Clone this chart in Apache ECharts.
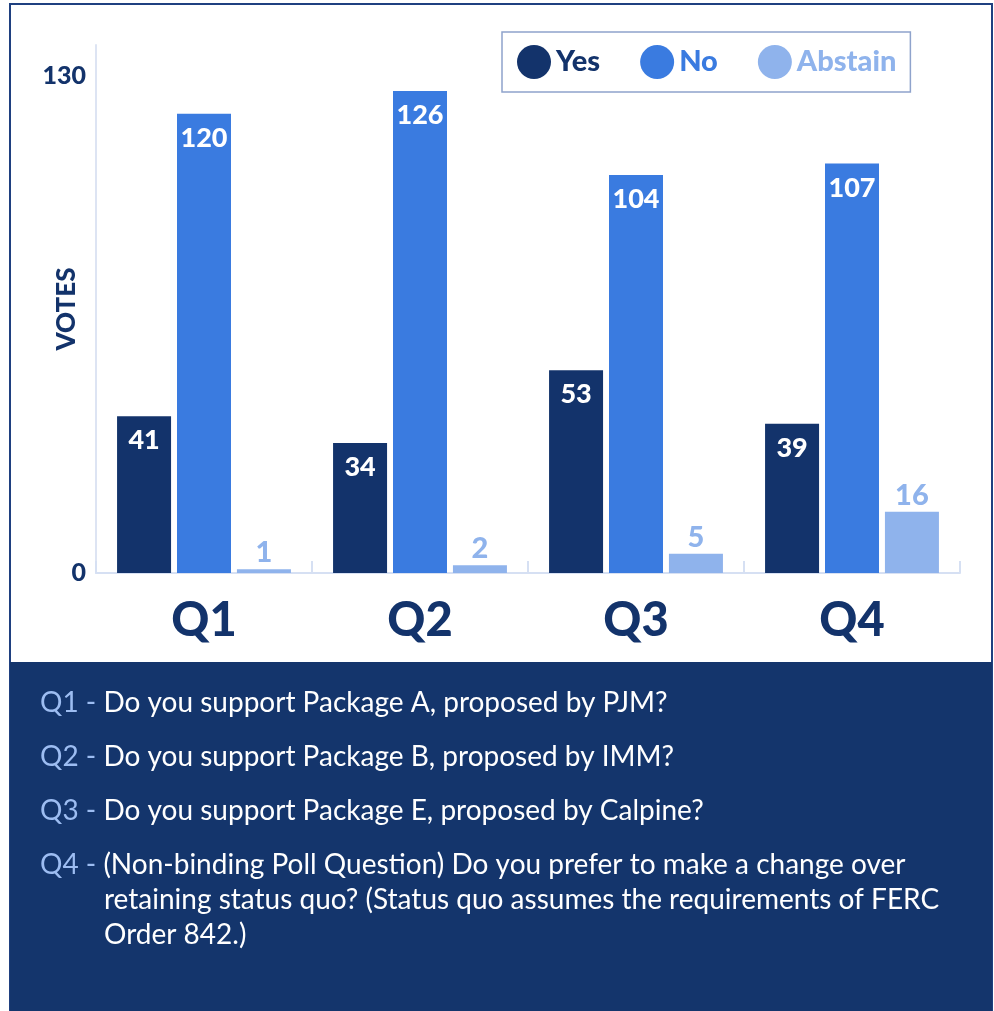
<!DOCTYPE html>
<html>
<head>
<meta charset="utf-8">
<script src="https://cdn.jsdelivr.net/npm/echarts@6/dist/echarts.min.js"></script>
<style>
  html, body { margin: 0; padding: 0; background: #fff; }
  #chart { width: 994px; height: 1011px; }
</style>
</head>
<body>
<div id="chart"></div>
<script>
  // poll results
  var questions = ['Q1', 'Q2', 'Q3', 'Q4'];
  var yesVotes = [41, 34, 53, 39];
  var noVotes = [120, 126, 104, 107];
  var abstainVotes = [1, 2, 5, 16];
  var yTicks = [0, 130];
  var notes = [
    ['Q1 - ', 'Do you support Package A, proposed by PJM?'],
    ['Q2 - ', 'Do you support Package B, proposed by IMM?'],
    ['Q3 - ', 'Do you support Package E, proposed by Calpine?'],
    ['Q4 - ', '(Non-binding Poll Question) Do you prefer to make a change over',
      'retaining status quo? (Status quo assumes the requirements of FERC', 'Order 842.)']
  ];

  var navy = '#13336b';
  var blue = '#3a7be0';
  var light = '#8fb3ec';
  var font = 'Lato';

  var myChart = echarts.init(document.getElementById('chart'));

  // frame + bottom panel texts
  var graphics = [
    {
      type: 'rect', z: -10,
      shape: {x: 10, y: 4, width: 982, height: 1006},
      style: {fill: '#fff', stroke: '#1f4080', lineWidth: 2}
    },
    {
      type: 'rect', z: -9,
      shape: {x: 10, y: 662, width: 982, height: 349},
      style: {fill: '#14356c'}
    }
  ];
  var lineY = [706, 760, 814, 868];
  notes.forEach(function (n, i) {
    graphics.push({
      type: 'text', left: 40, top: lineY[i] - 17,
      style: {
        text: '{q|' + n[0] + '}{t|' + n[1] + '}',
        rich: {
          q: {fill: '#9dbdf2', fontSize: 28, fontFamily: font},
          t: {fill: '#fff', fontSize: 28, fontFamily: font}
        }
      }
    });
    for (var k = 2; k < n.length; k++) {
      graphics.push({
        type: 'text', left: 104, top: lineY[i] - 17 + (k - 1) * 35,
        style: {text: n[k], fill: '#fff', fontSize: 28, fontFamily: font}
      });
    }
  });

  var insideLabel = {
    show: true,
    position: 'insideTop',
    distance: 11,
    color: '#fff',
    fontSize: 27,
    fontWeight: 900,
    fontFamily: font
  };

  myChart.setOption({
    animation: false,
    textStyle: {fontFamily: font},
    graphic: graphics,
    legend: {
      left: 502,
      top: 32,
      padding: [13, 14, 13, 15],
      borderColor: '#8fa3cc',
      borderWidth: 1.5,
      icon: 'circle',
      itemWidth: 34,
      itemHeight: 34,
      itemGap: 40,
      textStyle: {fontSize: 29, fontWeight: 900, fontFamily: font},
      data: [
        {name: 'Yes', textStyle: {color: navy}},
        {name: 'No', textStyle: {color: blue}},
        {name: 'Abstain', textStyle: {color: light}}
      ]
    },
    grid: {
      left: 96,
      right: 34,
      top: 45,
      bottom: 438
    },
    xAxis: {
      type: 'category',
      data: questions,
      axisLine: {lineStyle: {color: '#d6e0f3', width: 2}},
      axisTick: {show: true, inside: true, length: 12, lineStyle: {color: '#d6e0f3', width: 2}},
      axisLabel: {
        margin: 24,
        color: navy,
        fontSize: 47,
        fontWeight: 900,
        fontFamily: font
      }
    },
    yAxis: {
      type: 'value',
      min: 0,
      max: 138,
      interval: yTicks[1],
      name: 'VOTES',
      nameLocation: 'middle',
      nameRotate: 90,
      nameGap: 16,
      nameMoveOverlap: false,
      nameTextStyle: {color: navy, fontSize: 26, fontWeight: 900, fontFamily: font},
      axisLine: {show: true, lineStyle: {color: '#dde4f3', width: 2}},
      axisTick: {show: false},
      splitLine: {show: false},
      axisLabel: {
        showMaxLabel: false,
        margin: 10,
        color: navy,
        fontSize: 25,
        fontWeight: 900,
        fontFamily: font
      }
    },
    series: [
      {
        name: 'Yes',
        type: 'bar',
        data: yesVotes,
        barWidth: 54,
        barGap: '11%',
        itemStyle: {color: navy},
        label: insideLabel
      },
      {
        name: 'No',
        type: 'bar',
        data: noVotes,
        barWidth: 54,
        barGap: '11%',
        itemStyle: {color: blue},
        label: insideLabel
      },
      {
        name: 'Abstain',
        type: 'bar',
        data: abstainVotes,
        barWidth: 54,
        barGap: '11%',
        itemStyle: {color: light},
        label: {
          show: true,
          position: 'top',
          distance: 2,
          color: light,
          fontSize: 29,
          fontWeight: 900,
          fontFamily: font
        }
      }
    ]
  });
</script>
</body>
</html>
